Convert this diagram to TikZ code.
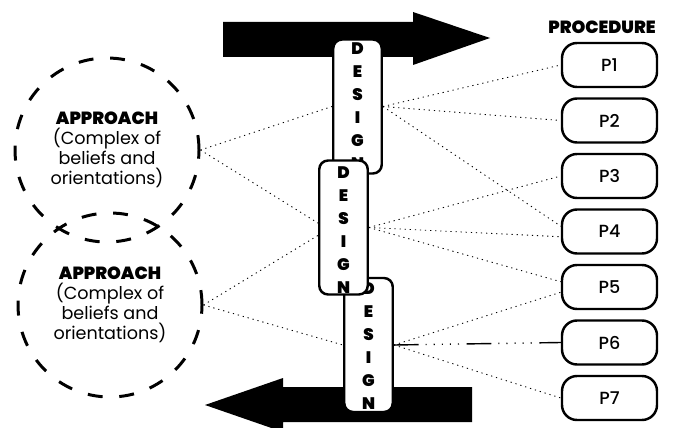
\documentclass[tikz,border=0pt]{standalone}
\usepackage{fontspec}
\setmainfont{Poppins}
\newfontfamily\heavyfont{Poppins Black}
\newfontfamily\mediumfont{Poppins Medium}

\begin{document}
\begin{tikzpicture}[
    approach/.style={circle, minimum size=3.68cm, line width=1.7pt, dash pattern=on 8.5pt off 9.5pt, draw, align=center, font=\fontsize{10}{11.4}\selectfont},
    designbox/.style={draw, line width=1.4pt, fill=white, rounded corners=5pt, minimum width=0.97cm, minimum height=2.68cm},
    letter/.style={inner sep=0pt, font=\heavyfont\fontsize{9.5}{10}\selectfont},
    procbox/.style={draw, line width=1.4pt, rounded corners=0.3cm, minimum width=1.9cm, minimum height=0.88cm, font=\mediumfont\fontsize{10}{12}\selectfont},
    link/.style={line width=0.5pt, dash pattern=on 0.7pt off 2.2pt},
    dashlink/.style={line width=0.8pt, dash pattern=on 14pt off 4pt on 0.6pt off 4pt on 0.6pt off 4pt on 0.6pt off 4pt on 0.6pt off 4pt on 0.6pt off 4.4pt}
]
    \useasboundingbox (0,0) rectangle (13.46,8.54);

    % Big arrows
    \fill (4.46,7.40) -- (8.26,7.40) -- (8.26,7.24) -- (9.80,7.78) -- (8.26,8.30) -- (8.26,8.10) -- (4.46,8.10) -- cycle;
    \fill (9.44,0.80) -- (5.66,0.80) -- (5.66,0.98) -- (4.10,0.44) -- (5.66,-0.10) -- (5.66,0.10) -- (9.44,0.10) -- cycle;

    % Approaches
    \node[approach] (c1) at (2.14,5.54) {{\heavyfont APPROACH}\\(Complex of\\beliefs and\\orientations)};
    \node[approach] (c2) at (2.20,2.44) {{\heavyfont APPROACH}\\(Complex of\\beliefs and\\orientations)};

    % Design boxes (third one first, second one on top)
    \node[designbox] (d3) at (7.37,1.64) {};
    \foreach \l [count=\k from 0] in {D,E,S,I,G,N}
        \node[letter] (d3l\k) at ([yshift={-0.24cm-\k*0.46cm}]d3.north) {\l};
    \node[designbox] (d1) at (7.15,6.41) {};
    \foreach \l [count=\k from 0] in {D,E,S,I,G,N}
        \node[letter] (d1l\k) at ([yshift={-0.21cm-\k*0.46cm}]d1.north) {\l};
    \node[designbox] (d2) at (6.87,3.99) {};
    \foreach \l [count=\k from 0] in {D,E,S,I,G,N}
        \node[letter] (d2l\k) at ([yshift={-0.26cm-\k*0.46cm}]d2.north) {\l};

    % Procedures
    \node[font=\heavyfont\fontsize{10}{12}\selectfont] (proc) at (12.04,8.00) {PROCEDURE};
    \foreach \i in {1,...,7}
        \node[procbox] (p\i) at (12.19,{7.24-1.11*(\i-1)}) {P\i};

    % Links approach -> design
    \draw[link] (c1.east) -- (d1.west);
    \draw[link] (c1.east) -- ([yshift=2.5pt]d2.west);
    \draw[link] (c2.east) -- ([yshift=-4.5pt]d2.west);
    \draw[link] (c2.east) -- (d3.west);

    % Links design -> procedure
    \draw[link] (d1.east) -- (p1.west);
    \draw[link] (d1.east) -- (p2.west);
    \draw[link] (d1.east) -- ([yshift=3pt]p4.west);
    \draw[link] (d2.east) -- (p3.west);
    \draw[link] (d2.east) -- ([yshift=-3pt]p4.west);
    \draw[link] (d2.east) -- ([yshift=3pt]p5.west);
    \draw[link] (d3.east) -- ([yshift=-3pt]p5.west);
    \draw[dashlink] (d3.east) -- (p6.west);
    \draw[link] (d3.east) -- (p7.west);
\end{tikzpicture}
\end{document}
